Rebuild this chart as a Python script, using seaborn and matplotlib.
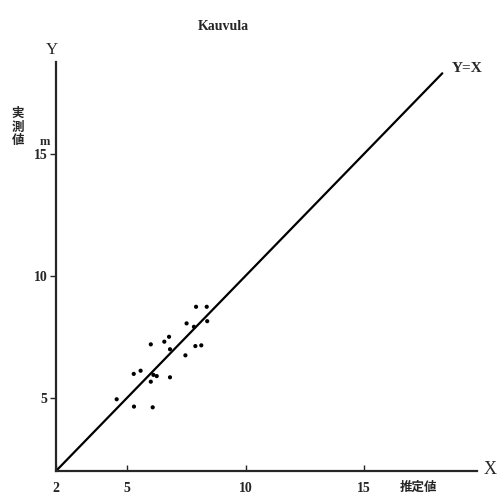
import matplotlib
matplotlib.use("Agg")
import matplotlib.pyplot as plt
import seaborn as sns
import pandas as pd

# estimated (x = 推定値, y = 実測値)
estimated = [7.91, 8.36, 7.51, 7.82, 8.38, 6.77, 6.57, 6.00, 6.81, 7.88, 8.13,
             7.46, 5.57, 5.28, 6.11, 6.25, 6.81, 6.00, 4.56, 5.29, 6.08]
measured = [8.73, 8.73, 8.05, 7.91, 8.14, 7.50, 7.30, 7.19, 6.99, 7.12, 7.15,
            6.74, 6.11, 5.98, 5.94, 5.89, 5.84, 5.66, 4.94, 4.64, 4.61]
line_range = [2, 18.3]
x_ticks = [2, 5, 10, 15]
y_ticks = [5, 10, 15]

sns.set_style("ticks")
plt.rcParams['font.family'] = ['Liberation Serif', 'Noto Sans CJK JP', 'DejaVu Sans']

W, H = 502, 501
fig = plt.figure(figsize=(W / 100, H / 100), dpi=100)

def fx(px):
    return px / W

def fy(py):
    return 1 - py / H

# axes placed in pixel terms
left, right, top, bottom = 56, 477, 62, 471
ax = fig.add_axes([fx(left), fy(bottom), (right - left) / W, (bottom - top) / H])

df = pd.DataFrame({"x": estimated, "y": measured})
sns.scatterplot(data=df, x="x", y="y", ax=ax, color="black", s=9,
                edgecolor="none", linewidth=0)
sns.lineplot(x=line_range, y=line_range, ax=ax, color="black", linewidth=1.6)

ax.set_xlim(2, 2 + (right - left) / 23.7)
ax.set_ylim(2, 2 + (bottom - top) / 24.4)
ax.set_xticks(x_ticks)
ax.set_yticks(y_ticks)
ax.set_xticklabels([str(t) for t in x_ticks], fontsize=10, fontweight="bold")
ax.set_yticklabels([str(t) for t in y_ticks], fontsize=10, fontweight="bold")
ax.tick_params(axis="x", direction="in", length=4, width=1, pad=8)
ax.tick_params(axis="y", direction="out", length=4, width=1, pad=2)
ax.set_xlabel("")
ax.set_ylabel("")
sns.despine(ax=ax)
for s in ["left", "bottom"]:
    ax.spines[s].set_linewidth(1.6)

cjk = ['Noto Sans CJK JP', 'DejaVu Sans']
fig.text(fx(223), fy(27), "Kauvula", ha="center", va="center",
         fontsize=10, fontweight="bold")
fig.text(fx(52), fy(50), "Y", ha="center", va="center", fontsize=12)
fig.text(fx(490), fy(470), "X", ha="center", va="center", fontsize=13)
fig.text(fx(467), fy(68), "Y=X", ha="center", va="center",
         fontsize=11, fontweight="bold")
fig.text(fx(18), fy(127), "実\n測\n値", ha="center", va="center",
         fontsize=9, fontweight="bold", family=cjk, linespacing=1.05)
fig.text(fx(45), fy(142), "m", ha="center", va="center", fontsize=9,
         fontweight="bold")
fig.text(fx(418), fy(487), "推定値", ha="center", va="center",
         fontsize=9, fontweight="bold", family=cjk)

fig.savefig("out.png", dpi=100)
